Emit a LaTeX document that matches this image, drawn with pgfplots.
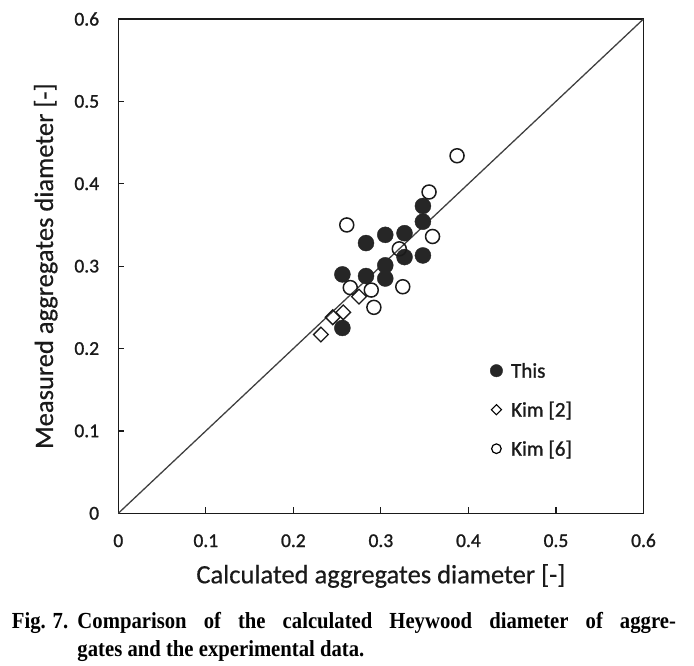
\documentclass[border=0pt]{standalone}
\usepackage{pgfplots}
\pgfplotsset{compat=1.18}
\usepackage{fontspec}
\setmainfont{Carlito}[FakeBold=0.5]
\newfontfamily\tickfont{Carlito}[FakeBold=1.2]
\newfontfamily\capfont{Liberation Serif}[FakeStretch=0.9]
\definecolor{mk}{HTML}{262626}
\definecolor{ln}{HTML}{404040}
\definecolor{tx}{HTML}{1A1A1A}

\pgfplotsset{
  legfill/.style={legend image code/.code={\draw[##1, mark size=6.2pt] plot coordinates {(0pt,0pt)};}},
  legdia/.style={legend image code/.code={\draw[##1, mark size=3.6pt, mark options={line width=1.1pt, rotate=45}] plot coordinates {(0pt,0pt)};}},
  legcirc/.style={legend image code/.code={\draw[##1, mark size=4.8pt, mark options={line width=1.2pt}] plot coordinates {(0pt,0pt)};}},
}

\pgfplotstableread{
x y
0.348 0.373
0.348 0.354
0.305 0.338
0.327 0.340
0.283 0.328
0.348 0.313
0.327 0.311
0.305 0.301
0.305 0.285
0.256 0.290
0.283 0.288
0.256 0.225
}\thisdata
\pgfplotstableread{
x y
0.2315 0.217
0.245 0.238
0.257 0.244
0.275 0.263
}\kimtwo
\pgfplotstableread{
x y
0.387 0.434
0.355 0.390
0.261 0.350
0.359 0.336
0.321 0.321
0.265 0.274
0.289 0.271
0.325 0.275
0.292 0.250
}\kimsix

\begin{document}
\begin{tikzpicture}
\path[use as bounding box] (-118.3pt,-151.7pt) rectangle (575.7pt,513.3pt);
\begin{axis}[
  at={(0pt,0pt)}, anchor=south west,
  scale only axis, width=525.2pt, height=494.3pt,
  xmin=0, xmax=0.6, ymin=0, ymax=0.6,
  xtick={0,0.1,0.2,0.3,0.4,0.5,0.6},
  ytick={0,0.1,0.2,0.3,0.4,0.5,0.6},
  tick align=inside, xtick pos=bottom, ytick pos=left,
  major tick length=6pt,
  axis line style={line width=1.4pt, color=tx},
  tick style={line width=1.2pt, color=tx},
  /pgf/number format/assume math mode=true,
  /pgf/number format/fixed,
  /pgf/number format/precision=1,
  ticklabel style={font=\tickfont\fontsize{19.5}{20}\selectfont, text=tx},
  xticklabel style={anchor=base, yshift=-33.7pt, inner sep=0pt},
  yticklabel style={anchor=east, inner sep=0pt, xshift=-19pt},
  xlabel={Calculated aggregates diameter [-]},
  ylabel={Measured aggregates diameter [-]},
  label style={font=\fontsize{26.5}{28}\selectfont, text=tx, inner sep=0pt},
  xlabel style={at={([yshift=-70pt]axis description cs:0.5,0)}, anchor=base},
  ylabel style={at={([xshift=-65.3pt]axis description cs:0,0.5)}, anchor=base},
  legend style={at={(axis cs:0.4249,0.1816)}, anchor=north west, draw=none, fill=none,
    inner sep=0pt, outer sep=0pt, font=\tickfont\fontsize{21}{22}\selectfont, text=tx,
    row sep=25pt, column sep=8.5pt,
    nodes={inner sep=0pt, text height=14pt, text depth=0pt}},
  legend cell align=left,
]
\addplot[color=ln, line width=1.3pt, forget plot] coordinates {(0,0) (0.6,0.6)};
\addplot[only marks, mark=*, mark size=8pt, mark options={fill=mk, draw=mk}, legfill]
  table {\thisdata};
\addlegendentry{This}
\addplot[only marks, mark=square, mark size=5.2pt, mark options={draw=tx, line width=1.3pt, rotate=45}, legdia]
  table {\kimtwo};
\addlegendentry{Kim [2]}
\addplot[only marks, mark=o, mark size=7pt, mark options={draw=tx, line width=1.5pt}, legcirc]
  table {\kimsix};
\addlegendentry{Kim [6]}
\end{axis}
\begin{scope}[every node/.style={anchor=base west, inner sep=0pt, font=\capfont\bfseries\fontsize{23}{24}\selectfont}]
\node at (-106.6pt,-115pt) {Fig. 7.};
\node at (-41pt,-115pt) {\makebox[598.4pt][s]{Comparison of the calculated Heywood diameter of aggre-}};
\node at (-41pt,-142.7pt) {gates and the experimental data.};
\end{scope}
\end{tikzpicture}
\end{document}
